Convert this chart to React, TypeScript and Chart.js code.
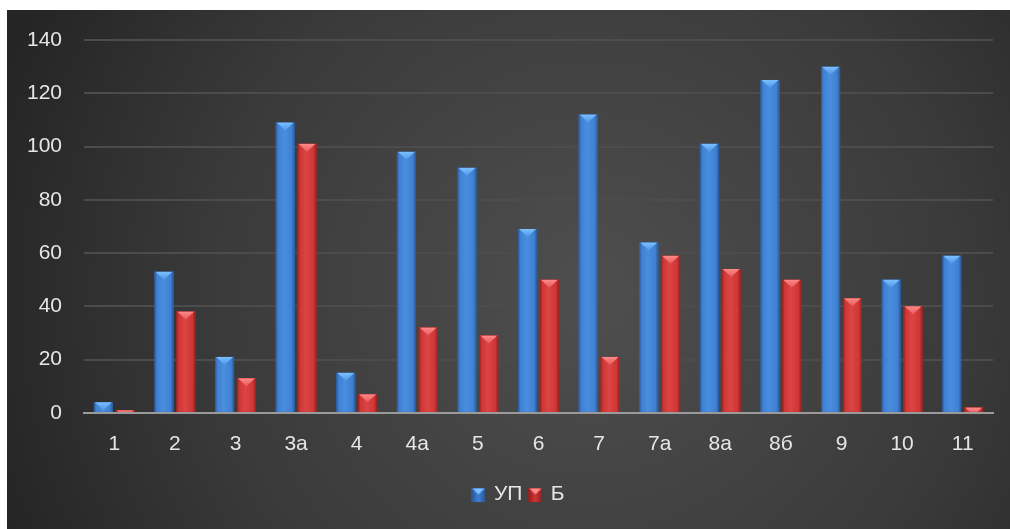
import React, { useEffect, useRef } from "react";
import { Chart, registerables } from "chart.js";

Chart.register(...registerables);

const categories = ["1", "2", "3", "3а", "4", "4а", "5", "6", "7", "7а", "8а", "8б", "9", "10", "11"];
const seriesUP = [4, 53, 21, 109, 15, 98, 92, 69, 112, 64, 101, 125, 130, 50, 59];
const seriesB = [1, 38, 13, 101, 7, 32, 29, 50, 21, 59, 54, 50, 43, 40, 2];
const seriesNames = ["УП", "Б"];

const palettes = [
  { edge: "#2a5596", mid: "#3f80d2", light: "#4a8ee0", cap: "#7cc0ff", capDark: "#4f97e6" },
  { edge: "#8e2020", mid: "#cf3535", light: "#dc4545", cap: "#ff8a8a", capDark: "#e45a5a" },
];

const FONT = "'Liberation Sans', 'DejaVu Sans', sans-serif";
const FONT_SIZE = 21;

function makeLegendIcon(p: typeof palettes[0]) {
  const c = document.createElement("canvas");
  c.width = 14;
  c.height = 14;
  const g = c.getContext("2d")!;
  const gr = g.createLinearGradient(0, 0, 14, 0);
  gr.addColorStop(0, p.edge);
  gr.addColorStop(0.5, p.mid);
  gr.addColorStop(1, p.edge);
  g.fillStyle = gr;
  g.fillRect(0, 0, 14, 14);
  g.fillStyle = p.cap;
  g.beginPath();
  g.moveTo(1, 1);
  g.lineTo(13, 1);
  g.lineTo(7, 7);
  g.closePath();
  g.fill();
  return c;
}

const bgPlugin = {
  id: "bgPlugin",
  beforeDraw(chart: any) {
    const { ctx, width, height } = chart;
    ctx.save();
    const g = ctx.createRadialGradient(width * 0.58, height * 0.55, 10, width * 0.58, height * 0.55, width * 0.62);
    g.addColorStop(0, "#4e4e4e");
    g.addColorStop(0.6, "#3a3a3a");
    g.addColorStop(1, "#252525");
    ctx.fillStyle = g;
    ctx.fillRect(0, 0, width, height);
    ctx.restore();
  },
};

const legendShiftPlugin = {
  id: "legendShift",
  afterLayout(chart: any) {
    const lg = chart.legend;
    if (lg && !lg.__shifted) {
      lg.__shifted = true;
      const orig = lg.draw.bind(lg);
      lg.draw = (...args: any[]) => {
        const ctx = chart.ctx;
        ctx.save();
        ctx.translate(19, 0);
        orig(...args);
        ctx.restore();
      };
    }
  },
};

const barStylePlugin = {
  id: "barStyle",
  afterDatasetsDraw(chart: any) {
    const ctx = chart.ctx;
    chart.data.datasets.forEach((ds: any, di: number) => {
      const meta = chart.getDatasetMeta(di);
      const p = palettes[di];
      meta.data.forEach((el: any) => {
        const { x, y, width, base } = el.getProps(["x", "y", "width", "base"], true);
        const left = x - width / 2;
        const right = x + width / 2;
        const top = Math.min(y, base);
        const h = Math.abs(base - y);
        if (h <= 0) return;
        ctx.save();
        const gr = ctx.createLinearGradient(left, 0, right, 0);
        gr.addColorStop(0, p.edge);
        gr.addColorStop(0.12, p.mid);
        gr.addColorStop(0.45, p.light);
        gr.addColorStop(0.85, p.mid);
        gr.addColorStop(1, p.edge);
        ctx.fillStyle = gr;
        ctx.fillRect(left, top, width, h);
        ctx.beginPath();
        ctx.rect(left, top, width, h);
        ctx.clip();
        const capH = Math.min(8, width / 2);
        const cg = ctx.createLinearGradient(0, top, 0, top + capH);
        cg.addColorStop(0, p.cap);
        cg.addColorStop(1, p.capDark);
        ctx.fillStyle = cg;
        ctx.beginPath();
        ctx.moveTo(left + 1, top);
        ctx.lineTo(right - 1, top);
        ctx.lineTo(x, top + capH);
        ctx.closePath();
        ctx.fill();
        ctx.restore();
      });
    });
  },
};

export default function App() {
  const ref = useRef<HTMLCanvasElement>(null);
  useEffect(() => {
    const icons = palettes.map(makeLegendIcon);
    const chart = new Chart(ref.current!, {
      type: "bar",
      data: {
        labels: categories,
        datasets: [
          { label: seriesNames[0], data: seriesUP, backgroundColor: palettes[0].mid, borderWidth: 0 },
          { label: seriesNames[1], data: seriesB, backgroundColor: palettes[1].mid, borderWidth: 0 },
        ],
      },
      options: {
        animation: false,
        responsive: true,
        maintainAspectRatio: false,
        layout: { padding: { top: 30, right: 17, bottom: 14, left: 0 } },
        datasets: { bar: { categoryPercentage: 0.72, barPercentage: 0.87 } },
        scales: {
          x: {
            grid: { display: false, drawTicks: false },
            border: { display: true, color: "#9a9a9a", width: 2 },
            ticks: { color: "#e6e6e6", font: { family: FONT, size: FONT_SIZE }, padding: 19 },
            afterFit(scale: any) {
              scale.paddingLeft = 0;
              scale.paddingRight = 0;
            },
          },
          y: {
            min: 0,
            max: 140,
            ticks: { stepSize: 20, color: "#e6e6e6", font: { family: FONT, size: FONT_SIZE }, padding: 22 },
            grid: { color: "#4c4c4c", lineWidth: 2, drawTicks: false },
            border: { display: false },
            afterFit(scale: any) {
              scale.width = 77;
              scale.paddingTop = 0;
              scale.paddingBottom = 0;
            },
          },
        },
        plugins: {
          legend: {
            position: "bottom",
            labels: {
              color: "#e6e6e6",
              font: { family: FONT, size: FONT_SIZE },
              usePointStyle: true,
              boxWidth: 10,
              boxHeight: 14,
              padding: 8,
              generateLabels(chart: any) {
                return chart.data.datasets.map((ds: any, i: number) => ({
                  text: ds.label,
                  fillStyle: palettes[i].mid,
                  strokeStyle: palettes[i].mid,
                  lineWidth: 0,
                  pointStyle: icons[i],
                  hidden: false,
                  datasetIndex: i,
                  fontColor: "#e6e6e6",
                }));
              },
            },
          },
          tooltip: { enabled: false },
        },
      },
      plugins: [bgPlugin, barStylePlugin, legendShiftPlugin],
    });
    return () => chart.destroy();
  }, []);
  return (
    <div style={{ position: "absolute", left: 7, top: 10, width: 1003, height: 519 }}>
      <canvas ref={ref} />
    </div>
  );
}
